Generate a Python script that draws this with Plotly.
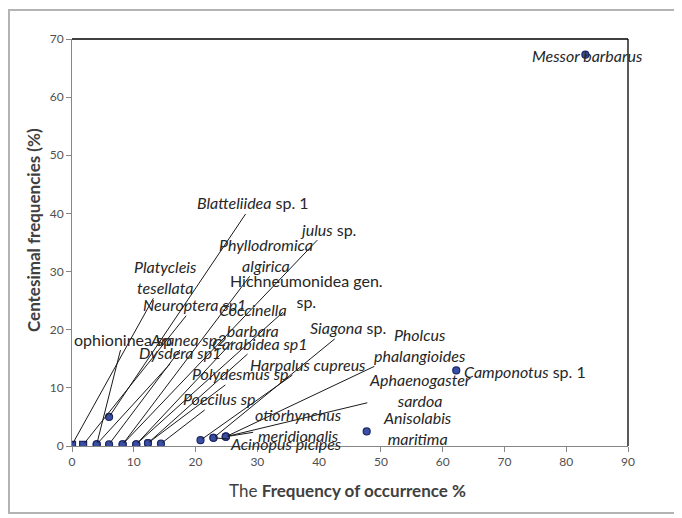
import plotly.graph_objects as go

# ---- data ----
species = [
    "Platycleis tesellata", "Neuroptera sp1", "ophioninea sp", "Dysdera sp1",
    "Blatteliidea sp. 1", "Aranea sp2", "Phyllodromica algirica", "julus sp.",
    "Hichneumonidea gen. sp.", "Coccinella barbara", "Carabidea sp1", "Polydesmus sp",
    "Poecilus sp", "Harpalus cupreus", "Siagona sp.", "Acinopus picipes",
    "Pholcus phalangioides", "Aphaenogaster sardoa", "otiorhynchus meridionalis",
    "Anisolabis maritima", "Camponotus sp. 1", "Messor barbarus",
]
freq_occurrence = [0.0, 1.8, 4.0, 4.0, 6.0, 6.0, 8.2, 8.2, 10.4, 10.4, 12.3, 12.3,
                   14.4, 20.8, 22.9, 22.9, 24.9, 24.9, 24.9, 47.7, 62.2, 83.1]
centesimal_freq = [0.2, 0.2, 0.3, 0.3, 5.0, 0.3, 0.3, 0.3, 0.3, 0.3, 0.5, 0.5,
                   0.4, 1.0, 1.4, 1.4, 1.6, 1.6, 1.6, 2.5, 13.0, 67.3]
label_texts = [
    "<i>Platycleis</i><br><i>tesellata</i>", "<i>Neuroptera sp1</i>", "ophioninea sp",
    "<i>Dysdera sp1</i>", "<i>Blatteliidea</i> sp. 1", "<i>Aranea sp2</i>",
    "<i>Phyllodromica</i><br><i>algirica</i>", "<i>julus</i> sp.",
    "Hichneumonidea gen.<br>sp.", "<i>Coccinella</i><br><i>barbara</i>",
    "<i>Carabidea sp1</i>", "<i>Polydesmus sp</i>", "<i>Poecilus sp</i>",
    "<i>Harpalus cupreus</i>", "<i>Siagona</i> sp.", "<i>Acinopus picipes</i>",
    "<i>Pholcus</i><br><i>phalangioides</i>", "<i>Aphaenogaster</i><br><i>sardoa</i>",
    "<i>otiorhynchus</i><br><i>meridionalis</i>", "<i>Anisolabis</i><br><i>maritima</i>",
    "<i>Camponotus</i> sp. 1", "<i>Messor barbarus</i>",
]
x_ticks = [0, 10, 20, 30, 40, 50, 60, 70, 80, 90]
y_ticks = [0, 10, 20, 30, 40, 50, 60, 70]

# ---- label placement (layout, data coords of label centre) ----
label_pos = [
    (15.1, 29.1), (19.9, 24.3), (8.3, 18.4), (17.5, 16.0),
    (29.3, 41.8), (18.8, 18.4), (31.4, 32.9), (41.4, 37.3),
    (38.0, 26.7), (29.3, 21.7), (30.4, 17.7), (27.2, 12.4),
    (23.8, 8.1), (38.2, 14.1), (44.7, 20.3), (34.6, 0.5),
    (56.3, 17.4), (56.3, 9.6), (36.6, 3.6), (56.0, 3.1),
    (73.3, 12.9), (83.4, 67.1),
]
with_leader = [True] * 19 + [False] * 3

symbols = ["square", "square"] + ["circle"] * (len(species) - 2)

FONT = "Lato, Liberation Sans, sans-serif"
LABEL_SIZE = 16

# page pixel -> paper coordinate helpers (plot area 72..628 x, 39..446 y on page)
def px(xp):
    return (xp - 72) / 556.0


def py(yp):
    return (446 - yp) / 407.0


fig = go.Figure()
fig.add_trace(go.Scatter(
    x=freq_occurrence, y=centesimal_freq, mode="markers",
    marker=dict(symbol=symbols, size=7, color="#3a4fa3",
                line=dict(color="#1d2766", width=1.2)),
    text=species, hoverinfo="text", showlegend=False,
))

annotations = []
for (lx, ly), txt, x0, y0, lead in zip(label_pos, label_texts, freq_occurrence,
                                       centesimal_freq, with_leader):
    if lead:
        annotations.append(dict(
            x=x0, y=y0, xref="x", yref="y", ax=lx, ay=ly, axref="x", ayref="y",
            text=txt, showarrow=True, arrowhead=0, arrowwidth=1, arrowcolor="#1a1a1a",
            standoff=2, font=dict(family=FONT, size=LABEL_SIZE, color="#262626"),
            align="center",
        ))
    else:
        annotations.append(dict(
            x=lx, y=ly, xref="x", yref="y", text=txt, showarrow=False,
            font=dict(family=FONT, size=LABEL_SIZE, color="#262626"), align="center",
        ))

# axis titles
annotations.append(dict(
    x=px(33), y=py(230), xref="paper", yref="paper", xanchor="center", yanchor="middle",
    text="<b>Centesimal frequencies (%)</b>", textangle=-90, showarrow=False,
    font=dict(family=FONT, size=17, color="#404040"),
))
annotations.append(dict(
    x=px(347), y=py(490), xref="paper", yref="paper", xanchor="center", yanchor="middle",
    text="The <b>Frequency of occurrence %</b>", showarrow=False,
    font=dict(family=FONT, size=17, color="#404040"),
))

shapes = [
    # outer chart frame
    dict(type="rect", xref="paper", yref="paper",
         x0=px(9), x1=px(679), y0=py(513), y1=py(10),
         line=dict(color="#b3b3b3", width=2), layer="below"),
    # plot area top and right borders
    dict(type="line", xref="paper", yref="paper", x0=0, x1=1, y0=1, y1=1,
         line=dict(color="#000000", width=1.3)),
    dict(type="line", xref="paper", yref="paper", x0=1, x1=1, y0=0, y1=1,
         line=dict(color="#000000", width=1.3)),
]

fig.update_layout(
    width=674, height=510,
    margin=dict(l=64, r=54, t=31, b=72),
    paper_bgcolor="white", plot_bgcolor="white",
    font=dict(family=FONT, color="#404040"),
    annotations=annotations, shapes=shapes,
    xaxis=dict(range=[0, 90], tickvals=x_ticks, ticks="outside", ticklen=5,
               tickcolor="#868686", showline=True, linecolor="#868686", linewidth=1,
               showgrid=False, zeroline=False, tickfont=dict(size=12, color="#505050")),
    yaxis=dict(range=[0, 70], tickvals=y_ticks, ticks="outside", ticklen=5,
               tickcolor="#868686", showline=True, linecolor="#868686", linewidth=1,
               showgrid=False, zeroline=False, tickfont=dict(size=12, color="#505050")),
)

fig.write_html("out.html")
